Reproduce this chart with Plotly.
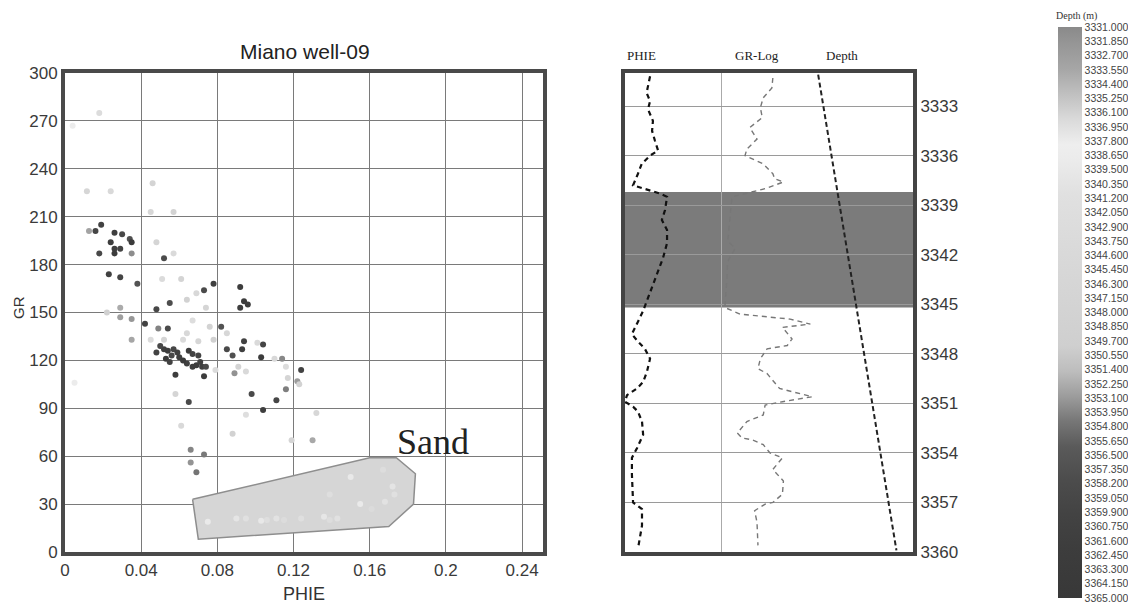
import plotly.graph_objects as go

# page has an 8px body margin, so the figure is sized to the remaining window
PAGE_OFF = 8
W, H = 1136 - PAGE_OFF, 606 - PAGE_OFF

# ---------------- Cross-plot data (PHIE vs GR, coloured by depth) ----------------
PHIE_X = [0.018, 0.004, 0.0115, 0.024, 0.046, 0.045, 0.057, 0.0126, 0.016, 0.019,
          0.026, 0.030, 0.024, 0.029, 0.034, 0.035, 0.026, 0.018, 0.026, 0.035,
          0.048, 0.057, 0.052, 0.023, 0.029, 0.038, 0.051, 0.061, 0.078, 0.073,
          0.092, 0.069, 0.064, 0.055, 0.094, 0.096, 0.092, 0.074, 0.029, 0.029,
          0.035, 0.022, 0.048, 0.042, 0.049, 0.054, 0.067, 0.064, 0.076, 0.082,
          0.085, 0.062, 0.070, 0.078, 0.035, 0.045, 0.052, 0.094, 0.101, 0.104,
          0.093, 0.085, 0.088, 0.103, 0.110, 0.114, 0.116, 0.124, 0.117, 0.122,
          0.123, 0.116, 0.111, 0.104, 0.098, 0.095, 0.091, 0.089, 0.132, 0.095,
          0.119, 0.130, 0.088,
          0.048, 0.052, 0.054, 0.057, 0.059, 0.053, 0.056, 0.060, 0.065, 0.067,
          0.070, 0.064, 0.067, 0.069, 0.072, 0.074, 0.058, 0.073, 0.050, 0.062,
          0.071, 0.055,
          0.079, 0.058, 0.065, 0.061, 0.066, 0.005, 0.073, 0.066, 0.069,
          0.075, 0.090, 0.095, 0.103, 0.106, 0.111, 0.115, 0.124, 0.136, 0.139,
          0.143, 0.139, 0.150, 0.167, 0.172, 0.173, 0.155, 0.168, 0.161]
GR_Y = [275, 267, 226, 226, 231, 213, 213, 201, 201, 205,
        200, 199, 194, 190, 196, 194, 190, 187, 187, 187,
        194, 187, 184, 174, 172, 168, 171, 171, 168, 164,
        166, 162, 158, 156, 157, 155, 153, 153, 153, 147,
        146, 150, 152, 143, 140, 140, 145, 137, 141, 141,
        137, 133, 132, 133, 133, 133, 133, 132, 131, 130,
        127, 127, 123, 122, 121, 121, 116, 114, 109, 107,
        105, 102, 95, 89, 99, 113, 116, 112, 87, 86,
        70, 70, 74,
        125, 127, 126, 127, 125, 121, 123, 122, 126, 124,
        123, 118, 116, 117, 116, 116, 111, 110, 129, 120,
        119, 119,
        114, 99, 94, 79, 64, 106, 61, 56, 50,
        19, 21, 21, 19.5, 20, 21, 20, 21, 22, 20,
        21, 36, 47, 51.5, 41, 36, 30, 31.5, 27]
DEPTH_C = [3343.0, 3338.6, 3346.0, 3344.5, 3347.0, 3345.5, 3348.0, 3333.2, 3359.5, 3360.5,
           3361.2, 3358.8, 3362.0, 3360.0, 3357.5, 3363.0, 3361.5, 3359.0, 3362.5, 3353.6,
           3346.5, 3344.0, 3358.0, 3360.8, 3359.8, 3357.0, 3343.5, 3347.5, 3361.0, 3358.5,
           3362.8, 3345.0, 3348.5, 3357.8, 3363.5, 3362.2, 3361.8, 3346.8, 3333.8, 3332.8,
           3353.2, 3349.0, 3359.2, 3360.2, 3354.0, 3358.2, 3342.5, 3344.8, 3347.8, 3357.2,
           3345.8, 3343.8, 3346.2, 3348.8, 3333.5, 3342.8, 3347.2, 3360.6, 3344.2, 3359.6,
           3361.4, 3358.6, 3357.4, 3362.6, 3345.2, 3353.8, 3343.2, 3360.4, 3346.4, 3332.5,
           3348.2, 3354.2, 3359.4, 3361.6, 3358.4, 3344.6, 3347.4, 3353.4, 3345.6, 3342.2,
           3346.6, 3333.6, 3348.6,
           3360.1, 3361.3, 3362.1, 3359.3, 3360.9, 3363.2, 3358.9, 3361.7, 3362.9, 3360.3,
           3359.7, 3361.1, 3362.3, 3363.4, 3360.7, 3358.3, 3361.9, 3362.7, 3359.1, 3363.8,
           3361.5, 3360.5,
           3343.6, 3346.9, 3358.7, 3344.3, 3353.9, 3338.7, 3354.4, 3353.3, 3354.6,
           3339.2, 3340.1, 3341.0, 3339.6, 3342.0, 3340.6, 3343.1, 3341.5, 3339.9, 3342.6,
           3340.9, 3341.8, 3339.4, 3342.3, 3340.3, 3341.2, 3339.1, 3340.7, 3343.4]

SAND_POLY_X = [0.067, 0.160, 0.174, 0.184, 0.183, 0.170, 0.070, 0.067]
SAND_POLY_Y = [33, 59, 59, 49, 30, 16, 8, 33]

X_TICKS = [0, 0.04, 0.08, 0.12, 0.16, 0.2, 0.24]
X_TICK_TEXT = ["0", "0.04", "0.08", "0.12", "0.16", "0.2", "0.24"]
Y_TICKS = [0, 30, 60, 90, 120, 150, 180, 210, 240, 270, 300]

# ---------------- Log track data ----------------
PHIE_LOG_DEPTH = [3331.2, 3332.2, 3332.7, 3333.2, 3333.9, 3334.5, 3335.1, 3335.7, 3336.0, 3336.5,
                  3337.1, 3337.8, 3338.3, 3338.5, 3339.3, 3339.9, 3340.5, 3341.3, 3342.2, 3343.0,
                  3343.8, 3344.6, 3345.4, 3345.8, 3346.8, 3347.2, 3347.7, 3348.3, 3349.1, 3349.7,
                  3350.1, 3350.5, 3350.9, 3351.2, 3351.5, 3352.1, 3352.9, 3353.7, 3354.3, 3355.3,
                  3357.0, 3357.4, 3358.4, 3359.8]
PHIE_LOG = [0.087, 0.075, 0.087, 0.080, 0.097, 0.094, 0.104, 0.115, 0.087, 0.058,
            0.045, 0.028, 0.122, 0.146, 0.139, 0.128, 0.146, 0.146, 0.132, 0.115,
            0.097, 0.080, 0.063, 0.052, 0.024, 0.042, 0.069, 0.087, 0.076, 0.063,
            0.042, 0.007, 0.000, 0.028, 0.045, 0.059, 0.063, 0.042, 0.024, 0.024,
            0.028, 0.059, 0.059, 0.045]

GR_LOG_DEPTH = [3331.3, 3331.9, 3332.5, 3333.1, 3333.7, 3334.3, 3335.0, 3335.6, 3336.0, 3336.5,
                3337.1, 3337.4, 3337.6, 3338.0, 3338.5, 3339.8, 3341.2, 3341.6, 3342.4, 3343.6,
                3345.2, 3345.6, 3345.9, 3346.2, 3346.4, 3347.1, 3347.5, 3347.7, 3348.3, 3348.9,
                3349.2, 3350.1, 3350.6, 3350.9, 3351.1, 3351.7, 3352.1, 3352.8, 3353.1, 3353.2,
                3353.5, 3354.0, 3354.3, 3355.0, 3355.7, 3356.5, 3357.0, 3357.1, 3357.5, 3358.2,
                3359.6]
GR_LOG = [154, 153, 144, 141, 143, 130, 137.5, 127, 125, 144,
          154, 156, 165, 146, 111.5, 109, 107, 115, 107, 106,
          104, 120, 172, 193, 164, 174, 169, 148, 141, 138.5,
          148, 161, 195, 164, 146, 144, 127, 117, 122, 132,
          144, 151, 164, 154, 165, 164, 154, 146, 135, 137.5,
          138.5]

DEPTH_LINE = [3331.1, 3359.9]

SAND_TOP, SAND_BASE = 3338.2, 3345.2
DEPTH_TICKS = [3333, 3336, 3339, 3342, 3345, 3348, 3351, 3354, 3357, 3360]

# ---------------- Colour bar (depth) ----------------
CB_TICKS = [3331.0 + 0.85 * i for i in range(41)]
CB_DEPTH = [3331, 3332, 3333.5, 3335, 3336.5, 3338, 3339, 3341, 3345, 3350,
            3351.5, 3353, 3354.5, 3356, 3358, 3360, 3362, 3365]
CB_GRAY = ['#8a8a8a', '#969696', '#a6a6a6', '#c0c0c0', '#dadada', '#eeeeee', '#ebebeb',
           '#e0e0e0', '#d8d8d8', '#cfcfcf', '#bdbdbd', '#9c9c9c', '#767676', '#5a5a5a',
           '#4c4c4c', '#434343', '#3d3d3d', '#383838']

CMIN, CMAX = -max(CB_DEPTH), -min(CB_DEPTH)
colorscale = sorted([[(-d - CMIN) / (CMAX - CMIN), c] for d, c in zip(CB_DEPTH, CB_GRAY)])


def px(x):
    return (x - PAGE_OFF) / W


def py(y):
    return 1 - (y - PAGE_OFF) / H


SC_DOM_X = [px(65), px(543)]
DOM_Y = [py(552), py(73)]
LOG_DOM_X = [px(625), px(913)]

fig = go.Figure()

# sand polygon
fig.add_trace(go.Scatter(x=SAND_POLY_X, y=SAND_POLY_Y, mode="lines", fill="toself",
                         fillcolor="#d6d6d6", line=dict(color="#8e8e8e", width=1.5),
                         xaxis="x", yaxis="y", showlegend=False, hoverinfo="skip"))

# scatter points
fig.add_trace(go.Scatter(
    x=PHIE_X, y=GR_Y, mode="markers", xaxis="x", yaxis="y", showlegend=False,
    marker=dict(size=6, color=[-d for d in DEPTH_C], cmin=CMIN, cmax=CMAX,
                colorscale=colorscale, line=dict(width=0),
                colorbar=dict(x=px(1058), xanchor="left", y=py(312.5), yanchor="middle",
                              len=571, lenmode="pixels", thickness=24, thicknessmode="pixels",
                              outlinewidth=0, xpad=0, ypad=0, ticks="",
                              tickvals=[-v for v in CB_TICKS],
                              ticktext=["%.3f" % v for v in CB_TICKS],
                              tickfont=dict(family="Liberation Sans", size=10.5, color="#444"))),
))

# log curves
fig.add_trace(go.Scatter(x=PHIE_LOG, y=PHIE_LOG_DEPTH, mode="lines", xaxis="x2", yaxis="y2",
                         line=dict(color="#111", width=2.2, dash="5px,4px"), showlegend=False))
fig.add_trace(go.Scatter(x=GR_LOG, y=GR_LOG_DEPTH, mode="lines", xaxis="x3", yaxis="y2",
                         line=dict(color="#777", width=1.4, dash="5px,4px"), showlegend=False))
fig.add_trace(go.Scatter(x=DEPTH_LINE, y=DEPTH_LINE, mode="lines", xaxis="x4", yaxis="y2",
                         line=dict(color="#222", width=2, dash="5px,3px"), showlegend=False))

tickfont = dict(family="Liberation Sans", size=17, color="#3a3a3a")


def label(text, x, y, size, family="Liberation Sans", color="#222", angle=0):
    return dict(text=text, xref="paper", yref="paper", x=px(x), y=py(y),
                xanchor="center", yanchor="middle", showarrow=False, textangle=angle,
                font=dict(family=family, size=size, color=color))


fig.update_layout(
    width=W, height=H, margin=dict(l=0, r=0, t=0, b=0, autoexpand=False),
    paper_bgcolor="white", plot_bgcolor="white",
    xaxis=dict(domain=SC_DOM_X, range=[0, 0.251], tickvals=X_TICKS, ticktext=X_TICK_TEXT,
               showgrid=True, gridcolor="#7a7a7a", gridwidth=1, zeroline=False,
               showline=True, mirror=True, linewidth=4, linecolor="#4a4a4a",
               ticks="", tickfont=tickfont, anchor="y", automargin=False),
    yaxis=dict(domain=DOM_Y, range=[0, 300], tickvals=Y_TICKS,
               showgrid=True, gridcolor="#7a7a7a", gridwidth=1, zeroline=False,
               showline=True, mirror=True, linewidth=4, linecolor="#4a4a4a",
               ticks="", tickfont=tickfont, anchor="x", automargin=False),
    xaxis2=dict(domain=LOG_DOM_X, range=[0, 1], tickvals=[1 / 3], showticklabels=False,
                showgrid=True, gridcolor="#aaaaaa", gridwidth=1, zeroline=False,
                showline=True, mirror=True, linewidth=4, linecolor="#444", ticks="",
                anchor="y2", automargin=False),
    xaxis3=dict(overlaying="x2", range=[0, 300], visible=False, anchor="y2"),
    xaxis4=dict(overlaying="x2", range=[3260, 3366], visible=False, anchor="y2"),
    yaxis2=dict(domain=DOM_Y, range=[3360, 3331], side="right", tickvals=DEPTH_TICKS,
                showgrid=True, gridcolor="#9a9a9a", gridwidth=1, zeroline=False,
                showline=True, mirror=True, linewidth=4, linecolor="#444",
                ticks="", tickfont=tickfont, anchor="x2", automargin=False),
    shapes=[dict(type="rect", xref="x2 domain", x0=0, x1=1, yref="y2",
                 y0=SAND_TOP, y1=SAND_BASE, fillcolor="#7b7b7b", line=dict(width=0),
                 layer="below")],
    annotations=[
        label("Miano well-09", 305, 52, 21),
        label("PHIE", 304, 594, 18, color="#333"),
        label("GR", 18, 308, 15, color="#333", angle=-90),
        dict(text="Sand", xref="x", yref="y", x=0.193, y=69, showarrow=False,
             xanchor="center", yanchor="middle",
             font=dict(family="Liberation Serif", size=36, color="#222")),
        label("PHIE", 641, 55, 13, family="Liberation Serif"),
        label("GR-Log", 757, 55, 13, family="Liberation Serif"),
        label("Depth", 842, 56, 13, family="Liberation Serif"),
        label("Depth (m)", 1076, 16, 10, family="Liberation Serif", color="#333"),
    ],
)

fig.write_html("out.html")
